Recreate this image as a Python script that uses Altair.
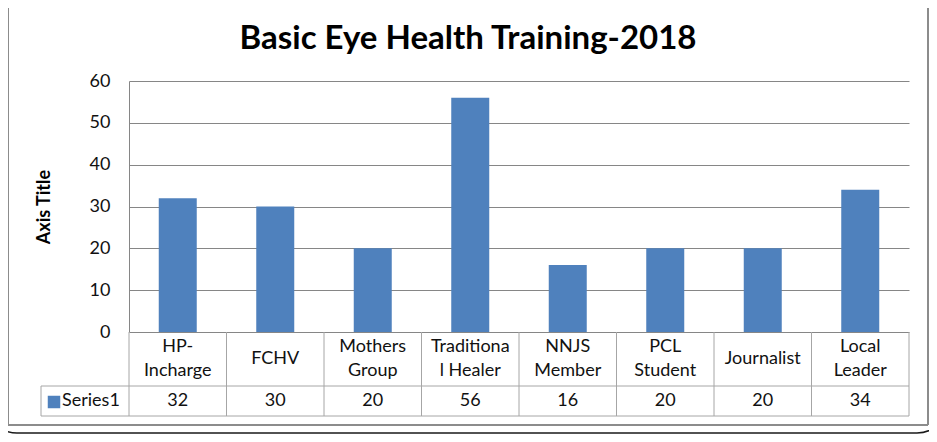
import altair as alt
import pandas as pd

categories = ["HP-\nIncharge", "FCHV", "Mothers\nGroup", "Traditiona\nl Healer",
              "NNJS\nMember", "PCL\nStudent", "Journalist", "Local\nLeader"]
values = [32, 30, 20, 56, 16, 20, 20, 34]
y_ticks = [0, 10, 20, 30, 40, 50, 60]
series_name = "Series1"
title_text = "Basic Eye Health Training-2018"
axis_title = "Axis Title"

df = pd.DataFrame({"cat": categories, "value": values})
one = pd.DataFrame({"k": [0]})
single_line = [c for c in categories if "\n" not in c]

W, H = 780, 251
FONT = "Lato"
FS = 18
BLUE = "#4f81bd"
GRID = "#868686"
TBL = "#a6a6a6"

xenc = alt.X("cat:N", sort=categories,
             scale=alt.Scale(paddingInner=0, paddingOuter=0), axis=None)
base = alt.Chart(df)

bars = base.mark_bar(color=BLUE, size=38).encode(
    x=xenc,
    y=alt.Y("value:Q", scale=alt.Scale(domain=[0, 60], nice=False),
            axis=alt.Axis(values=y_ticks, title=None, grid=True, gridColor=GRID,
                          domainColor=GRID, ticks=False, labelPadding=19,
                          labelFontSize=FS, labelFont=FONT, labelColor="#111")),
)

txt = dict(font=FONT, fontSize=FS, lineBreak="\n", lineHeight=24,
           baseline="middle", align="center", color="#111")
cat_multi = base.transform_filter(
    ~alt.FieldOneOfPredicate(field="cat", oneOf=single_line)
).mark_text(**txt).encode(x=xenc, y=alt.value(266), text="cat:N")
cat_single = base.transform_filter(
    alt.FieldOneOfPredicate(field="cat", oneOf=single_line)
).mark_text(**txt).encode(x=xenc, y=alt.value(278), text="cat:N")

val_text = base.mark_text(font=FONT, fontSize=FS, baseline="middle",
                          align="center", color="#111").encode(
    x=xenc, y=alt.value(320), text="value:Q")

vlines = base.mark_rule(color=TBL, strokeWidth=1).encode(
    x=alt.X("cat:N", sort=categories, bandPosition=0, axis=None,
            scale=alt.Scale(paddingInner=0, paddingOuter=0)),
    y=alt.value(251), y2=alt.value(335))

one_c = alt.Chart(one)
right_line = one_c.mark_rule(color=TBL).encode(x=alt.value(780), y=alt.value(251), y2=alt.value(335))
left_line = one_c.mark_rule(color=TBL).encode(x=alt.value(-88), y=alt.value(305), y2=alt.value(335))
h1 = one_c.mark_rule(color=TBL).encode(x=alt.value(-88), x2=alt.value(780), y=alt.value(305))
h2 = one_c.mark_rule(color=TBL).encode(x=alt.value(-88), x2=alt.value(780), y=alt.value(335))

legend_sq = one_c.mark_square(color=BLUE, size=156, opacity=1).encode(
    x=alt.value(-75), y=alt.value(321))
legend_tx = one_c.mark_text(font=FONT, fontSize=FS, align="left", baseline="middle",
                            color="#111", text=series_name).encode(
    x=alt.value(-67), y=alt.value(320))

title = one_c.mark_text(font=FONT, fontSize=33, fontWeight="bold", align="center",
                        baseline="middle", color="#000", text=title_text).encode(
    x=alt.value(339), y=alt.value(-42))

ytitle = one_c.mark_text(font=FONT, fontSize=18, fontWeight="bold", align="center",
                         baseline="middle", angle=270, color="#000", text=axis_title).encode(
    x=alt.value(-84), y=alt.value(126))

frame_in = one_c.mark_rule(color="#8c8c8c", strokeWidth=2).encode(
    x=alt.value(-121), y=alt.value(-100), y2=alt.value(344))
frame_in_r = one_c.mark_rule(color="#8c8c8c", strokeWidth=2).encode(
    x=alt.value(799), y=alt.value(-100), y2=alt.value(344))
frame_in_b = one_c.mark_rule(color="#8c8c8c", strokeWidth=2).encode(
    x=alt.value(-121), x2=alt.value(799), y=alt.value(344))
frame_out = one_c.mark_rect(fillOpacity=0, stroke="#1a1a1a", strokeWidth=1.5,
                            cornerRadius=30).encode(
    x=alt.value(-142), x2=alt.value(818), y=alt.value(-100), y2=alt.value(352))

chart = alt.layer(
    bars, vlines, right_line, left_line, h1, h2, cat_multi, cat_single, val_text,
    legend_sq, legend_tx, title, ytitle, frame_in, frame_in_r, frame_in_b, frame_out
).properties(
    width=W, height=H,
    autosize=alt.AutoSizeParams(type="none"),
    padding={"left": 121, "top": 73, "right": 20, "bottom": 102},
    background="white",
).configure_view(stroke=None)

chart.save("out.html", embed_options={"renderer": "svg", "actions": False})
